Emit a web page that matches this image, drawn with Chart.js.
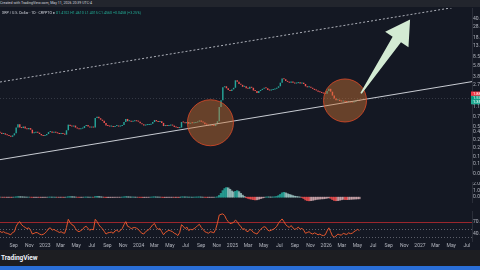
<!DOCTYPE html>
<html>
<head>
<meta charset="utf-8">
<script src="https://cdn.jsdelivr.net/npm/chart.js@4.4.1/dist/chart.umd.min.js"></script>
<style>
  html, body { margin: 0; padding: 0; width: 480px; height: 270px; overflow: hidden; background: #141823; font-family: Roboto, "Liberation Sans", sans-serif; }
  .abs { position: absolute; left: 0; }
  #topbar { top: 0; width: 480px; height: 7px; background: #22252d; color: #d1d4dc; font-size: 3.6px; line-height: 7px; white-space: nowrap; z-index: 2; }
  #legend { top: 11px; left: 2px; font-size: 3.6px; color: #d1d4dc; white-space: nowrap; z-index: 2; }
  #legend .ohlc { color: #22ab94; }
  #footer { top: 250px; width: 480px; height: 16px; background: #1d1e22; }
  #footer span { position: absolute; left: 1px; top: 4px; color: #f0f3fa; font-weight: bold; font-size: 6.5px; }
  #blue { top: 266px; width: 480px; height: 4px; background: #2a6fd8; }
  canvas { position: absolute; left: 0; }
</style>
</head>
<body>
<div id="topbar" class="abs">Created with TradingView.com, May 11, 2026 20:39 UTC-4</div>
<div id="legend" class="abs">XRP / U.S. Dollar · 1D · CRYPTO &#9679; <span class="ohlc">O1.4102 H1.4610 L1.4015 C1.4560 +0.0458 (+3.25%)</span></div>
<canvas id="mainChart" width="480" height="174" style="top:8px"></canvas>
<canvas id="macdChart" width="480" height="29" style="top:182px"></canvas>
<canvas id="rsiChart" width="480" height="39" style="top:211px"></canvas>
<div id="footer" class="abs"><span>TradingView</span></div>
<div id="blue" class="abs"></div>
<script>
// weekly closes, week 0 = Jul 11 2022 ... week 200 = May 11 2026
const closes = [
  0.39, 0.37, 0.38, 0.36,  0.35, 0.34, 0.33, 0.35,  0.38, 0.48, 0.55, 0.48,
  0.47, 0.50, 0.46, 0.45,  0.47, 0.44, 0.38, 0.39,  0.40, 0.39, 0.37, 0.35,
  0.34, 0.35, 0.37, 0.40,  0.41, 0.39, 0.40, 0.39,  0.38, 0.37, 0.38, 0.37,
  0.36, 0.43, 0.54, 0.51,  0.50, 0.52, 0.48, 0.46,  0.45, 0.46, 0.47, 0.51,
  0.53, 0.50, 0.48, 0.49,  0.48, 0.71, 0.74, 0.70,  0.66, 0.63, 0.58, 0.52,
  0.51, 0.50, 0.50, 0.49,  0.51, 0.52, 0.50, 0.51,  0.53, 0.60, 0.68, 0.62,
  0.63, 0.61, 0.62, 0.63,  0.62, 0.61, 0.57, 0.55,  0.52, 0.53, 0.53, 0.54,
  0.56, 0.60, 0.65, 0.62,  0.60, 0.62, 0.58, 0.51,  0.52, 0.51, 0.52, 0.53,
  0.52, 0.49, 0.48, 0.47,  0.48, 0.60, 0.59, 0.57,  0.60, 0.56, 0.58, 0.57,
  0.58, 0.59, 0.61, 0.64,  0.61, 0.59, 0.55, 0.54,  0.52, 0.53, 0.52, 0.51,
  0.55, 0.62, 1.10, 1.45,  2.45, 2.55, 2.35, 2.20,  2.10, 2.25, 2.40, 3.25,
  3.05, 2.80, 2.70, 2.50,  2.55, 2.35, 2.30, 2.50,  2.40, 2.15, 2.10, 1.95,
  2.10, 2.20, 2.30, 2.40,  2.35, 2.20, 2.15, 2.20,  2.25, 2.30, 2.40, 2.55,
  2.95, 3.50, 3.40, 3.15,  3.05, 2.95, 3.10, 2.95,  2.85, 2.90, 3.00, 2.85,
  2.95, 2.80, 2.55, 2.45,  2.50, 2.40, 2.30, 2.20,  2.15, 2.05, 2.00, 1.95,
  1.90, 1.88, 2.10, 2.30,  2.05, 1.75, 1.55, 1.45,  1.48, 1.40, 1.38, 1.42,
  1.36, 1.35, 1.38, 1.33,  1.32, 1.36, 1.42, 1.46,  1.41
];
const firstOpen = 0.40;

const rsiValues = [
  45, 42, 44, 41,  40, 38, 36, 42,  44, 58, 66, 70,
  62, 58, 55, 52,  54, 48, 38, 40,  42, 41, 38, 36,
  37, 40, 45, 52,  54, 48, 50, 47,  45, 42, 44, 41,
  40, 55, 76, 68,  62, 60, 52, 46,  44, 47, 50, 56,
  58, 52, 48, 50,  49, 76, 70, 62,  56, 52, 45, 38,
  41, 42, 43, 40,  46, 48, 44, 47,  52, 62, 70, 58,
  56, 52, 54, 55,  53, 50, 44, 40,  38, 44, 47, 50,
  56, 62, 65, 55,  50, 52, 44, 36,  42, 45, 48, 46,
  44, 40, 38, 34,  42, 62, 58, 52,  56, 47, 50, 49,
  52, 55, 60, 63,  55, 50, 44, 42,  40, 44, 43, 41,
  50, 66, 87, 89,  90, 86, 76, 70,  65, 66, 68, 74,
  70, 62, 58, 50,  52, 46, 44, 50,  48, 42, 40, 38,
  44, 50, 54, 57,  55, 48, 46, 48,  50, 53, 58, 66,
  72, 77, 70, 62,  58, 55, 60, 54,  50, 52, 56, 50,
  53, 48, 40, 42,  44, 40, 38, 41,  39, 36, 38, 35,
  34, 36, 46, 54,  44, 33, 30, 33,  38, 36, 35, 40,
  38, 37, 41, 39,  40, 44, 47, 50,  47
];

const macdHist = [
  0.01, -0.01, -0.01, -0.02,  -0.02, -0.02, -0.03, -0.01,  0.01, 0.04, 0.07, 0.06,
  0.05, 0.04, 0.02, 0.01,  0.01, -0.01, -0.03, -0.03,  -0.03, -0.02, -0.03, -0.03,
  -0.03, -0.02, -0.01, 0.01,  0.02, 0.01, 0.01, 0.00,  -0.01, -0.01, -0.01, -0.02,
  -0.02, 0.01, 0.06, 0.07,  0.06, 0.05, 0.02, -0.01,  -0.02, -0.02, -0.01, 0.01,
  0.02, 0.01, 0.00, 0.00,  -0.01, 0.08, 0.10, 0.08,  0.05, 0.02, -0.02, -0.05,
  -0.05, -0.04, -0.03, -0.03,  -0.02, -0.01, -0.01, -0.01,  0.01, 0.04, 0.07, 0.05,
  0.04, 0.02, 0.02, 0.01,  0.00, -0.01, -0.03, -0.04,  -0.04, -0.03, -0.02, -0.01,
  0.01, 0.03, 0.05, 0.03,  0.02, 0.01, -0.02, -0.05,  -0.04, -0.03, -0.02, -0.02,
  -0.02, -0.03, -0.03, -0.04,  -0.02, 0.04, 0.04, 0.03,  0.03, 0.01, 0.01, 0.00,
  0.01, 0.02, 0.03, 0.04,  0.02, 0.00, -0.02, -0.03,  -0.03, -0.02, -0.02, -0.02,
  0.00, 0.05, 0.25, 0.55,  0.95, 1.25, 1.40, 1.35,  1.15, 0.90, 0.75, 0.85,
  0.95, 0.80, 0.55, 0.30,  0.10, -0.08, -0.18, -0.25,  -0.30, -0.36, -0.40, -0.38,
  -0.30, -0.22, -0.12, -0.05,  0.02, 0.04, 0.03, 0.02,  0.03, 0.05, 0.10, 0.22,
  0.40, 0.62, 0.70, 0.62,  0.50, 0.40, 0.32, 0.22,  0.14, 0.10, 0.06, 0.02,
  -0.05, -0.20, -0.40, -0.50,  -0.53, -0.50, -0.46, -0.40,  -0.34, -0.30, -0.28, -0.25,
  -0.24, -0.20, -0.15, -0.10,  -0.18, -0.35, -0.48, -0.52,  -0.50, -0.45, -0.38, -0.32,
  -0.35, -0.36, -0.34, -0.32,  -0.30, -0.28, -0.27, -0.25,  -0.24
];

const xTickLabels = ["Sep", "Nov", "2023", "Mar", "May", "Jul", "Sep", "Nov", "2024", "Mar", "May", "Jul",
  "Sep", "Nov", "2025", "Mar", "May", "Jul", "Sep", "Nov", "2026", "Mar", "May", "Jul", "Sep", "Nov",
  "2027", "Mar", "May", "Jul"];
const priceTicks = [40, 28, 18, 13, 8.5, 5.8, 3.8, 2.7, 1.1, 0.73, 0.5, 0.4, 0.29, 0.21, 0.15, 0.11, 0.075];
const macdTicks = [2, 1, 0];
const rsiTicks = [70, 40];
const rsiLevels = [70, 50, 30];

// drawings, in chart units (week, price)
const lowerTrend = [{ x: 0, y: 0.131 }, { x: 262.66, y: 3.08 }];
const upperTrend = [{ x: 0, y: 3.03 }, { x: 262.66, y: 70 }];
const circleMarks = [{ x: 117.1, y: 0.583 }, { x: 192, y: 1.436 }];
const arrowFrom = { x: 200.9, y: 1.915 };
const arrowTo = { x: 228.2, y: 38.2 };
const priceTags = [{ value: 1.88, text: "1.8821" }, { value: 1.58, text: "1.5790" }, { value: 1.35, text: "1.3512" }];

// layout / style
const xMin = 0, xMax = 262.66;
const firstTickWeek = 7.61, tickStepWeeks = 8.696;
const priceMin = 0.0763, priceMax = 60.6;
const axisWidth = 8;
const circleRadii = [23, 21.5];
const tagColors = ["#f23645", "#089981", "#22ab94"];
const upColor = "#26a69a", downColor = "#ef5350";
const axisText = "#b2b5be";

Chart.defaults.font.family = "Roboto, 'Liberation Sans', sans-serif";
Chart.defaults.animation = false;

function xScale(show) {
    return {
        type: "linear", min: xMin, max: xMax, offset: false, bounds: "data", display: show,
        grid: { display: false, drawTicks: false }, border: { display: false },
        afterBuildTicks: s => { s.ticks = xTickLabels.map((t, k) => ({ value: firstTickWeek + k * tickStepWeeks })); },
        afterFit: s => { s.height = 9; s.paddingLeft = 0; s.paddingRight = 0; },
        ticks: { autoSkip: false, maxRotation: 0, padding: 1.5, color: axisText, font: { size: 5 },
            callback: (v, i) => xTickLabels[i] }
    };
}

function yRight(extra, tickList) {
    return Object.assign({
        position: "right", bounds: "data",
        grid: { display: false, drawTicks: false },
        border: { display: true, color: "#2a2e39" },
        afterBuildTicks: s => { s.ticks = tickList.map(v => ({ value: v })); },
        afterFit: s => { s.width = axisWidth; s.paddingTop = 0; s.paddingBottom = 0; },
        ticks: { autoSkip: false, padding: 1, color: axisText, font: { size: 5 }, callback: v => Number(v).toFixed(2) }
    }, extra);
}

const baseOptions = {
    responsive: false,
    layout: { padding: 0 },
    plugins: { legend: { display: false }, tooltip: { enabled: false } }
};

// ---- main price pane ----
const mainOverlay = {
    id: "mainOverlay",
    beforeDatasetsDraw(chart) {
        const { ctx, chartArea, scales: { y } } = chart;
        const py = Math.round(y.getPixelForValue(priceTags[1].value)) + 0.5;
        ctx.save();
        ctx.strokeStyle = "rgba(150,155,170,0.25)";
        ctx.setLineDash([1, 2]);
        ctx.beginPath(); ctx.moveTo(chartArea.left, py); ctx.lineTo(chartArea.right, py); ctx.stroke();
        ctx.restore();
    },
    afterDatasetsDraw(chart) {
        const { ctx, scales: { x, y } } = chart;
        ctx.save();
        circleMarks.forEach((c, i) => {
            ctx.beginPath();
            ctx.arc(x.getPixelForValue(c.x), y.getPixelForValue(c.y), circleRadii[i], 0, Math.PI * 2);
            ctx.fillStyle = "rgba(205,115,50,0.45)";
            ctx.fill();
            ctx.lineWidth = 1;
            ctx.strokeStyle = "rgba(225,75,40,0.8)";
            ctx.stroke();
        });
        // arrow
        const x1 = x.getPixelForValue(arrowFrom.x), y1 = y.getPixelForValue(arrowFrom.y);
        const x2 = x.getPixelForValue(arrowTo.x), y2 = y.getPixelForValue(arrowTo.y);
        const len = Math.hypot(x2 - x1, y2 - y1);
        const ux = (x2 - x1) / len, uy = (y2 - y1) / len, nx = -uy, ny = ux;
        const headLen = 24, headW = 14, shaftW = 5, tailW = 0.8;
        const bx = x2 - ux * headLen, by = y2 - uy * headLen;
        ctx.beginPath();
        ctx.moveTo(x1 + nx * tailW, y1 + ny * tailW);
        ctx.lineTo(bx + nx * shaftW, by + ny * shaftW);
        ctx.lineTo(bx + nx * headW, by + ny * headW);
        ctx.lineTo(x2, y2);
        ctx.lineTo(bx - nx * headW, by - ny * headW);
        ctx.lineTo(bx - nx * shaftW, by - ny * shaftW);
        ctx.lineTo(x1 - nx * tailW, y1 - ny * tailW);
        ctx.closePath();
        ctx.fillStyle = "#d3ebd3";
        ctx.fill();
        ctx.restore();
    },
    afterDraw(chart) {
        const { ctx, chartArea, scales: { y } } = chart;
        ctx.save();
        priceTags.forEach((t, i) => {
            const py = y.getPixelForValue(t.value);
            ctx.fillStyle = tagColors[i];
            ctx.fillRect(chartArea.right - 1, py - 2.3, 12, 4.6);
            ctx.fillStyle = "#ffffff";
            ctx.font = "4px Roboto";
            ctx.textBaseline = "middle";
            ctx.fillText(t.text, chartArea.right + 1, py);
        });
        ctx.restore();
    }
};

new Chart(document.getElementById("mainChart"), {
    type: "bar",
    data: {
        datasets: [
            {
                type: "line", data: lowerTrend, borderColor: "#c9ccd3", borderWidth: 1,
                pointRadius: 0, order: 0
            },
            {
                type: "line", data: upperTrend, borderColor: "#aeb1ba", borderWidth: 1,
                borderDash: [2, 2], pointRadius: 0, order: 0
            },
            {
                data: closes.map((c, i) => ({ x: i, y: [i === 0 ? firstOpen : closes[i - 1], c] })),
                backgroundColor: ctx => {
                    const d = ctx.raw;
                    if (!d) return upColor;
                    return d.y[1] >= d.y[0] ? upColor : downColor;
                },
                barPercentage: 0.8, categoryPercentage: 1, minBarLength: 1, order: 1
            }
        ]
    },
    options: Object.assign({}, baseOptions, {
        scales: {
            x: xScale(false),
            y: yRight({ type: "logarithmic", min: priceMin, max: priceMax }, priceTicks)
        }
    }),
    plugins: [mainOverlay]
});

// ---- MACD histogram pane ----
new Chart(document.getElementById("macdChart"), {
    type: "bar",
    data: {
        datasets: [{
            data: macdHist.map((v, i) => ({ x: i, y: v })),
            backgroundColor: ctx => {
                const i = ctx.dataIndex;
                const v = macdHist[i], p = i > 0 ? macdHist[i - 1] : v;
                if (v >= 0) return v >= p ? "rgba(38,166,154,0.85)" : "rgba(178,223,219,0.7)";
                return v < p ? "rgba(255,82,82,0.75)" : "rgba(255,205,210,0.6)";
            },
            barPercentage: 1, categoryPercentage: 1
        }]
    },
    options: Object.assign({}, baseOptions, {
        scales: {
            x: xScale(false),
            y: yRight({ type: "linear", min: -0.7, max: 2.2 }, macdTicks)
        }
    })
});

// ---- RSI pane ----
const rsiGuides = {
    id: "rsiGuides",
    beforeDatasetsDraw(chart) {
        const { ctx, chartArea, scales: { y } } = chart;
        ctx.save();
        rsiLevels.forEach((lv, i) => {
            const py = Math.round(y.getPixelForValue(lv)) + 0.5;
            ctx.beginPath();
            if (i === 0) { ctx.strokeStyle = "rgba(170,40,45,0.9)"; ctx.setLineDash([]); }
            else { ctx.strokeStyle = "rgba(140,143,154,0.6)"; ctx.setLineDash([1, 2]); }
            ctx.moveTo(chartArea.left, py); ctx.lineTo(chartArea.right, py); ctx.stroke();
        });
        ctx.restore();
    }
};

new Chart(document.getElementById("rsiChart"), {
    type: "line",
    data: {
        datasets: [{
            data: rsiValues.map((v, i) => ({ x: i, y: v })),
            borderColor: "#e4572e", borderWidth: 1, pointRadius: 0, tension: 0
        }]
    },
    options: Object.assign({}, baseOptions, {
        scales: {
            x: xScale(true),
            y: yRight({ type: "linear", min: 20, max: 97.5 }, rsiTicks)
        }
    }),
    plugins: [rsiGuides]
});
</script>
</body>
</html>
